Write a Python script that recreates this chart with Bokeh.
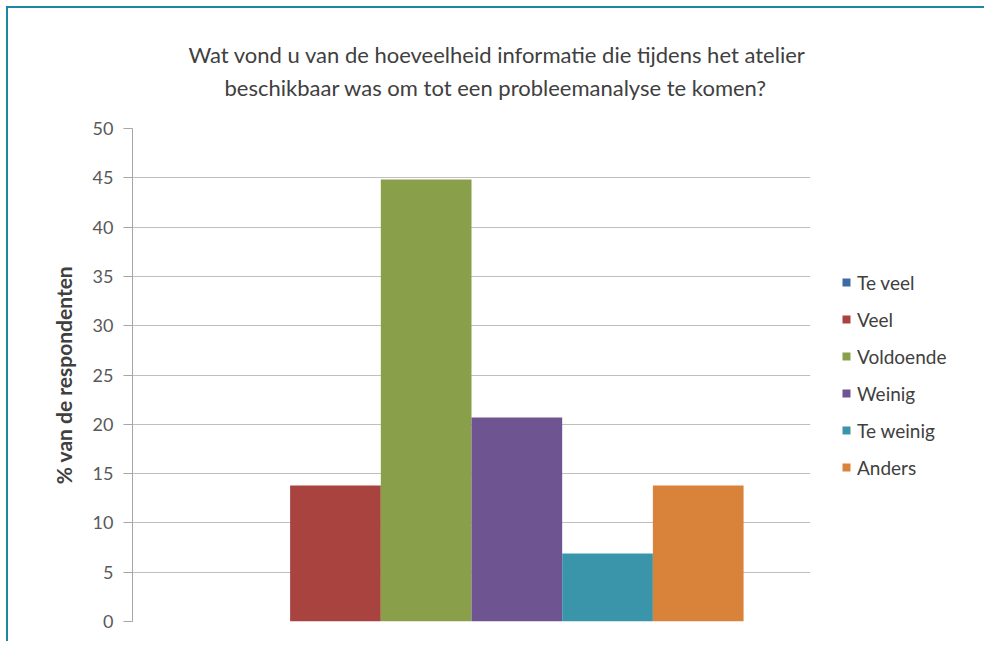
from bokeh.plotting import figure
from bokeh.models import ColumnDataSource, Title, FactorRange, Range1d, SingleIntervalTicker
from bokeh.embed import file_html
from bokeh.resources import INLINE

# ---- data ----
categories = ["Te veel", "Veel", "Voldoende", "Weinig", "Te weinig", "Anders"]
values = [0.0, 13.79, 44.83, 20.69, 6.90, 13.79]
colors = ["#3D6BA5", "#A8433F", "#8A9F49", "#6E5591", "#3A95AB", "#D9823A"]
title_lines = ["Wat vond u van de hoeveelheid informatie die tijdens het atelier",
               "beschikbaar was om tot een probleemanalyse te komen?"]
y_label = "% van de respondenten"

FONT = "Lato"
TEXT = "#404040"

src = ColumnDataSource(dict(cat=categories, val=values, color=colors))

p = figure(frame_width=678, frame_height=493, output_backend="svg", toolbar_location=None,
           x_range=FactorRange(*categories, range_padding=0.246, range_padding_units="percent"),
           y_range=Range1d(0, 50),
           min_border_left=124, min_border_right=170, min_border_top=120, min_border_bottom=20,
           styles={"margin-left": "6px", "margin-top": "6px",
                   "border-left": "2px solid #1D87A0", "border-top": "2px solid #1D87A0"})

p.vbar(x="cat", top="val", width=1.0, source=src, fill_color="color", line_color=None,
       legend_field="cat")

# title: two lines, centred over the whole chart (not only over the frame)
spacer = Title(text=" ", text_font_size="1px", standoff=23)
t2 = Title(text=title_lines[1], align="left", text_font=FONT, text_font_size="22px",
           text_font_style="normal", text_color=TEXT, standoff=4, offset=92)
t1 = Title(text=title_lines[0], align="left", text_font=FONT, text_font_size="22px",
           text_font_style="normal", text_color=TEXT, standoff=4, offset=56)
p.add_layout(spacer, "above")
p.add_layout(t2, "above")
p.add_layout(t1, "above")

# axes
p.xaxis.visible = False
p.xgrid.visible = False
p.yaxis.ticker = SingleIntervalTicker(interval=5)
p.yaxis.minor_tick_line_color = None
p.yaxis.major_tick_in = 0
p.yaxis.major_tick_out = 9
p.yaxis.major_tick_line_color = "#A6A6A6"
p.yaxis.axis_line_color = "#A6A6A6"
p.yaxis.major_label_text_font = FONT
p.yaxis.major_label_text_font_size = "18px"
p.yaxis.major_label_text_color = "#595959"
p.yaxis.major_label_standoff = 10
p.yaxis.axis_label = y_label
p.yaxis.axis_label_text_font = FONT
p.yaxis.axis_label_text_font_size = "21px"
p.yaxis.axis_label_text_font_style = "bold"
p.yaxis.axis_label_text_color = TEXT
p.yaxis.axis_label_standoff = 14
p.ygrid.grid_line_color = "#BFBFBF"
p.ygrid.grid_line_width = 1
p.outline_line_color = None

# legend
legend = p.legend[0]
p.center.remove(legend)
legend.location = "center_left"
legend.margin = 31
legend.padding = 0
legend.border_line_color = None
legend.background_fill_alpha = 0
legend.glyph_width = 10
legend.glyph_height = 10
legend.label_standoff = 6
legend.label_height = 20
legend.spacing = 14
legend.label_text_font = FONT
legend.label_text_font_size = "19px"
legend.label_text_color = TEXT
p.add_layout(legend, "right")

open("out.html", "w").write(file_html(p, INLINE))
